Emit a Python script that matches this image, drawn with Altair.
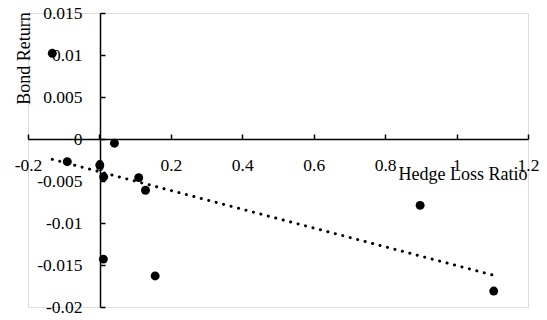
import altair as alt
import pandas as pd

hedge_loss_ratio = [-0.132, 0.042, -0.090, 0.001, 0.012, 0.110, 0.129, 0.011, 0.156, 0.898, 1.104]
bond_return = [0.0102, -0.0005, -0.0027, -0.0031, -0.0045, -0.0046, -0.0061, -0.0143, -0.0163, -0.0079, -0.0181]

x_ticks = [-0.2, 0, 0.2, 0.4, 0.6, 0.8, 1, 1.2]
y_ticks = [0.015, 0.01, 0.005, 0, -0.005, -0.01, -0.015, -0.02]

df = pd.DataFrame({"x": hedge_loss_ratio, "y": bond_return})

FONT = "Liberation Serif"
W, H = 500, 294

xscale = alt.Scale(domain=[-0.2, 1.2], nice=False, zero=False)
yscale = alt.Scale(domain=[-0.02, 0.015], nice=False, zero=False)

x_main = alt.X(
    "x:Q", scale=xscale,
    axis=alt.Axis(
        orient="bottom", offset=-168, values=x_ticks, ticks=False, tickSize=0,
        grid=False, domainColor="#000000", domainWidth=1.5,
        labelExpr="datum.value + ''", labelFont=FONT, labelFontSize=17.5,
        labelColor="#000000", labelPadding=17, labelFlush=False, labelOverlap=False,
        title="Hedge Loss Ratio", titleFont=FONT, titleFontSize=18, titleFontWeight="normal",
        titleColor="#000000", titleX=434.5, titleY=40, titleAlign="center",
        titleBaseline="alphabetic", titleAnchor="start",
    ),
)
y_main = alt.Y(
    "y:Q", scale=yscale,
    axis=alt.Axis(
        orient="left", offset=-72, values=y_ticks, ticks=False, tickSize=0,
        grid=False, domainColor="#000000", domainWidth=1.5,
        labelExpr="datum.value + ''", labelFont=FONT, labelFontSize=17.5,
        labelColor="#000000", labelPadding=18, labelFlush=False, labelOverlap=False,
        title="Bond Return", titleFont=FONT, titleFontSize=18, titleFontWeight="normal",
        titleColor="#000000", titleX=-71, titleY=45, titleAngle=-90, titleAlign="center",
        titleBaseline="alphabetic", titleAnchor="start",
    ),
)

points = alt.Chart(df).mark_circle(size=80, color="#000000", opacity=1).encode(
    x=x_main, y=y_main
)

x_tick_axis = alt.X(
    "x:Q", scale=xscale,
    axis=alt.Axis(orient="top", offset=-126, values=x_ticks, domain=False, labels=False,
                  ticks=True, tickSize=5, tickWidth=1.5, tickColor="#000000",
                  grid=False, title=None),
)
y_tick_axis = alt.Y(
    "y:Q", scale=yscale,
    axis=alt.Axis(orient="right", offset=-428, values=y_ticks, domain=False, labels=False,
                  ticks=True, tickSize=5, tickWidth=1.5, tickColor="#000000",
                  grid=False, title=None),
)

trend = alt.Chart(df).transform_regression("x", "y").mark_line(
    color="#000000", strokeWidth=3, strokeCap="round", strokeDash=[0.1, 7.6]
).encode(x=x_tick_axis, y=y_tick_axis)

chart = alt.layer(trend, points).resolve_axis(x="independent", y="independent").properties(
    width=W, height=H,
    autosize=alt.AutoSizeParams(type="none"),
    padding={"left": 28, "top": 13, "right": 19, "bottom": 13},
).configure_view(stroke=None).configure(background="white", font=FONT).configure_axis(
    labelFont=FONT, titleFont=FONT
)

chart.save("out.html", embed_options={"renderer": "svg", "actions": False})
